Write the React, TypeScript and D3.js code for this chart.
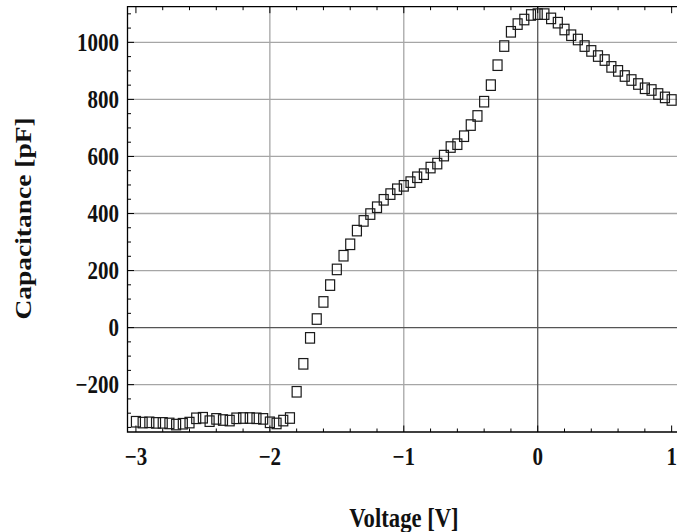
import React from "react";
import * as d3 from "d3";

// C-V sweep
const voltage = [
  -3.0, -2.95, -2.9, -2.85, -2.8, -2.75, -2.7, -2.65, -2.6, -2.55, -2.5, -2.45,
  -2.4, -2.35, -2.3, -2.25, -2.2, -2.15, -2.1, -2.05, -2.0, -1.95, -1.9, -1.85,
  -1.8, -1.75, -1.7, -1.65, -1.6, -1.55, -1.5, -1.45, -1.4, -1.35, -1.3, -1.25,
  -1.2, -1.15, -1.1, -1.05, -1.0, -0.95, -0.9, -0.85, -0.8, -0.75, -0.7, -0.65,
  -0.6, -0.55, -0.5, -0.45, -0.4, -0.35, -0.3, -0.25, -0.2, -0.15, -0.1, -0.05,
  0.0, 0.05, 0.1, 0.15, 0.2, 0.25, 0.3, 0.35, 0.4, 0.45, 0.5, 0.55,
  0.6, 0.65, 0.7, 0.75, 0.8, 0.85, 0.9, 0.95, 1.0,
];

const capacitance = [
  -330, -333, -332, -334, -334, -336, -340, -337, -333, -318, -316, -328,
  -320, -324, -326, -318, -317, -317, -318, -320, -332, -336, -326, -317,
  -225, -127, -36, 30, 90, 149, 204, 252, 292, 340, 374, 398,
  422, 448, 468, 485, 497, 510, 527, 538, 561, 575, 603, 633,
  643, 671, 710, 742, 792, 850, 920, 987, 1037, 1064, 1080, 1096,
  1099, 1099, 1084, 1069, 1045, 1025, 1010, 987, 970, 952, 938, 914,
  900, 882, 868, 854, 839, 833, 819, 807, 798,
];

const xTickLabels = [-3, -2, -1, 0, 1];
const yTickLabels = [-200, 0, 200, 400, 600, 800, 1000];
const xGrid = [-2, -1];
const yGrid = [-200, 200, 400, 600, 800, 1000];

const W = 677;
const H = 532;
const frame = { left: 127.5, top: 6.7, right: 677, bottom: 432 };

const x = d3.scaleLinear().domain([-3.063, 1.04]).range([frame.left, frame.right]);
const y = d3.scaleLinear().domain([-366, 1125]).range([frame.bottom, frame.top]);

const font = "'Liberation Serif', 'Times New Roman', Times, serif";
const squash = 0.84;
const fmt = (v: number) => (v < 0 ? "\u2212" + Math.abs(v) : String(v));

export default function App() {
  const xMinor = d3.range(-3, 1.001, 0.2).map((v) => +v.toFixed(2));
  const yMinor = d3.range(-350, 1101, 50);
  const data = voltage.map((v, i) => ({ v, c: capacitance[i] }));
  const mw = 9;
  const mh = 10.5;

  return (
    <svg
      width={W}
      height={H}
      style={{ position: "absolute", left: 0, top: 0, background: "#fff" }}
    >
      <rect x={0} y={0} width={W} height={H} fill="#fff" />

      {/* grid */}
      {xGrid.map((v) => (
        <line key={"gx" + v} x1={x(v)} x2={x(v)} y1={frame.top} y2={frame.bottom} stroke="#a6a6a6" strokeWidth={1.3} />
      ))}
      {yGrid.map((v) => (
        <line key={"gy" + v} x1={frame.left} x2={frame.right} y1={y(v)} y2={y(v)} stroke="#a6a6a6" strokeWidth={1.3} />
      ))}
      <line x1={x(0)} x2={x(0)} y1={frame.top} y2={frame.bottom} stroke="#555" strokeWidth={1.3} />
      <line x1={frame.left} x2={frame.right} y1={y(0)} y2={y(0)} stroke="#555" strokeWidth={1.3} />

      {/* ticks */}
      {xMinor.map((v) => {
        const len = Math.abs(v - Math.round(v)) < 1e-6 ? 6.5 : 3.5;
        return (
          <g key={"tx" + v} stroke="#000" strokeWidth={1}>
            <line x1={x(v)} x2={x(v)} y1={frame.bottom} y2={frame.bottom - len} />
            <line x1={x(v)} x2={x(v)} y1={frame.top} y2={frame.top + len} />
          </g>
        );
      })}
      {yMinor.map((v) => {
        const len = v % 200 === 0 ? 6.5 : 3.5;
        return (
          <line key={"ty" + v} x1={frame.left} x2={frame.left + len} y1={y(v)} y2={y(v)} stroke="#000" strokeWidth={1} />
        );
      })}

      {/* frame */}
      <path
        d={`M${frame.right},${frame.top}H${frame.left}V${frame.bottom}H${frame.right}`}
        fill="none"
        stroke="#000"
        strokeWidth={1.3}
      />

      {/* data */}
      {data.map((d, i) => (
        <rect
          key={i}
          x={x(d.v) - mw / 2}
          y={y(d.c) - mh / 2}
          width={mw}
          height={mh}
          fill="none"
          stroke="#1a1a1a"
          strokeWidth={1.2}
        />
      ))}

      {/* tick labels */}
      <g fontFamily={font} fontWeight="bold" fontSize={25} fill="#111">
        {xTickLabels.map((v) => (
          <text key={"lx" + v} transform={`translate(${x(v)},465) scale(${squash},1)`} textAnchor="middle">
            {fmt(v)}
          </text>
        ))}
        {yTickLabels.map((v) => (
          <text key={"ly" + v} transform={`translate(119,${y(v) + 8.5}) scale(${squash},1)`} textAnchor="end">
            {fmt(v)}
          </text>
        ))}
      </g>

      {/* axis titles */}
      <g fontFamily={font} fontWeight="bold" fill="#111">
        <text transform={`translate(404,527) scale(${squash},1)`} textAnchor="middle" fontSize={27}>
          Voltage [V]
        </text>
        <text transform={`translate(31,218.5) scale(${squash},1) rotate(-90)`} textAnchor="middle" fontSize={27.5}>
          Capacitance [pF]
        </text>
      </g>
    </svg>
  );
}
